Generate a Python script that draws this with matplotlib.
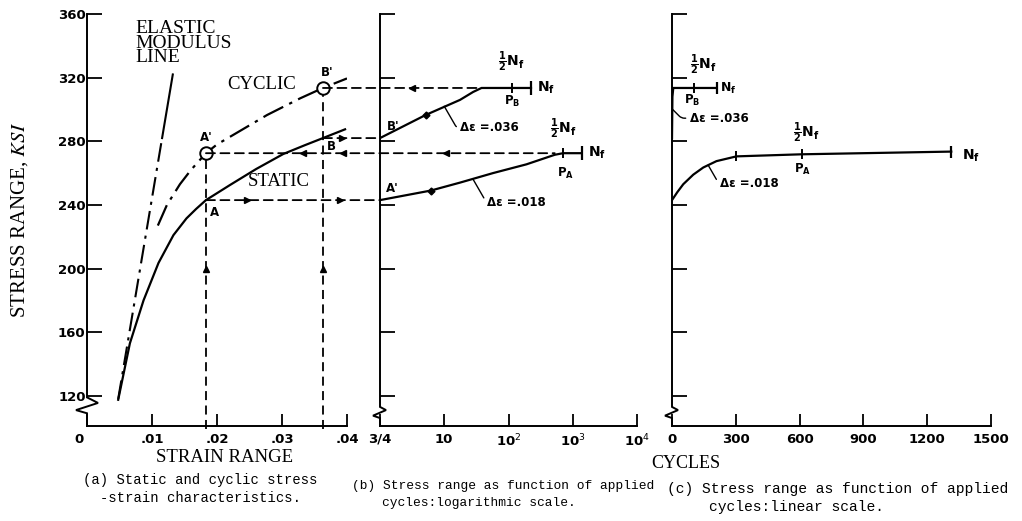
import matplotlib.pyplot as plt
import numpy as np
import matplotlib.transforms as mtrans
from matplotlib.patches import ConnectionPatch

plt.rcParams['font.family'] = ['DejaVu Sans']

# (a) static and cyclic stress-strain curves
static_strain = [0.0048, 0.0066, 0.0087, 0.0110, 0.0133, 0.0153, 0.0168, 0.0183, 0.0220, 0.0260,
                 0.0302, 0.0335, 0.0363, 0.0397]
static_stress = [117.5, 153, 180, 203.5, 221, 231.5, 237.5, 243, 252.5, 262.5,
                 272, 277.5, 282, 287.5]
cyclic_strain = [0.0109, 0.0123, 0.0143, 0.0160, 0.0183, 0.0200, 0.0225, 0.0277, 0.0328, 0.0363, 0.0400]
cyclic_stress = [227, 240, 253, 262, 272.5, 278, 284, 296.5, 307, 313.5, 319.5]
elastic_strain = [0.0048, 0.0132]
elastic_stress = [118, 322]

pt_A = (0.0183, 243)
pt_A1 = (0.0183, 272.5)
pt_B = (0.0363, 282)
pt_B1 = (0.0363, 313.5)

# (b) log scale, x measured in decades from 3/4 cycle
b036_x = [0, 0.71, 1.245, 1.45, 1.58, 2.05, 2.35]
b036_y = [282, 296.5, 306, 311, 313.5, 313.5, 313.5]
b018_x = [0, 0.79, 1.245, 1.76, 2.28, 2.72, 2.85, 3.14]
b018_y = [243, 249, 254, 260, 265.5, 271.5, 272.5, 272.5]
b_half = [2.05, 2.85]
b_fail = [2.35, 3.14]

# (c) linear scale, cycles
c036_x = [0, 2, 6, 103, 211]
c036_y = [282, 308, 313.5, 313.5, 313.5]
c018_x = [0, 25, 53, 100, 147, 209, 303, 609, 1313]
c018_y = [243, 248, 253, 259, 263.5, 267.5, 270.5, 271.8, 273.5]
c_half = [103, 609]
c_fail = [211, 1313]

yticks = [120, 160, 200, 240, 280, 320, 360]
a_xticks = [0, 0.01, 0.02, 0.03, 0.04]
a_xlabels = ['0', '.01', '.02', '.03', '.04']
b_xticks = [0, 1, 2, 3, 4]
b_xlabels = ['3/4', '10', r'10$^2$', r'10$^3$', r'10$^4$']
c_xticks = [0, 300, 600, 900, 1200, 1500]
c_xlabels = ['0', '300', '600', '900', '1200', '1500']

W, H = 1022, 521
fig = plt.figure(figsize=(W / 100, H / 100), dpi=100)

def make_ax(left, right, top=14, bottom=426):
    return fig.add_axes([left / W, (H - bottom) / H, (right - left) / W, (bottom - top) / H])

ax_a = make_ax(87, 347)
ax_b = make_ax(380, 637)
ax_c = make_ax(672, 991)

tickfont = dict(family='DejaVu Sans', weight='bold', size=9.5)
serif = 'Liberation Serif'
lw = 1.6

def frame(ax, xlim, xt, xl, zig, ylab):
    ax.set_xlim(*xlim)
    ax.set_ylim(101, 360)
    ax.spines['top'].set_visible(False)
    ax.spines['right'].set_visible(False)
    ax.spines['left'].set_visible(False)
    ax.spines['bottom'].set_linewidth(1.4)
    ax.set_yticks(yticks)
    ax.set_xticks(xt)
    ax.set_xticklabels(xl, fontdict=tickfont)
    if ylab:
        ax.set_yticklabels([str(v) for v in yticks], fontdict=tickfont)
    else:
        ax.set_yticklabels([])
    ax.tick_params(axis='y', direction='in', length=11, width=1.3, pad=1)
    ax.tick_params(axis='x', direction='in', length=9, width=1.3, pad=5)
    # left axis line with break
    wpx = ax.get_position().width * W
    px, py = zig
    xs = [0, 0] + [p / wpx for p in px] + [0]
    ys = [360, py[0]] + py + [101]
    ax.plot(xs, ys, color='k', lw=1.4, transform=ax.get_yaxis_transform(), clip_on=False,
            solid_joinstyle='miter')

frame(ax_a, (0, 0.04), a_xticks, a_xlabels, ([0, 11, -11, 0, 0], [119, 115.5, 111, 109, 101]), True)
frame(ax_b, (0, 4), b_xticks, b_xlabels, ([0, 6, -7, 0, 0], [113, 111, 107.5, 106, 101]), False)
frame(ax_c, (0, 1500), c_xticks, c_xlabels, ([0, 6, -7, 0, 0], [113, 111, 107.5, 106, 101]), False)

# shift the "0" strain label a little left like the original
lab0 = ax_a.get_xticklabels()[0]
lab0.set_transform(lab0.get_transform() + mtrans.ScaledTranslation(-8 / 100, 0, fig.dpi_scale_trans))

# ---- panel (a)
e_split = np.interp(282, elastic_stress, elastic_strain)
ax_a.plot([e_split, elastic_strain[1]], [282, elastic_stress[1]], color='k', lw=1.5)
ax_a.plot([elastic_strain[0], e_split], [elastic_stress[0], 282], color='k', lw=1.5,
          linestyle=(0, (9, 3, 1.5, 3)))
ax_a.plot(static_strain, static_stress, color='k', lw=lw)
ax_a.plot(cyclic_strain, cyclic_stress, color='k', lw=lw, linestyle=(0, (10, 3, 1.5, 3)))

dash = (0, (5, 3))
for p in [pt_A1, pt_B1]:
    ax_a.plot([p[0], p[0]], [99, p[1]], color='k', lw=1.3, linestyle=dash, clip_on=False)
    ax_a.plot(p[0], 200, marker='^', color='k', ms=4)
for p in [pt_A1, pt_B1]:
    ax_a.plot(*p, marker='o', ms=9, mfc='white', mec='k', mew=1.4, zorder=5)

# horizontal projections between panels (a) and (b)
links = [(pt_A, (0, pt_A[1])), (pt_A1, (2.72, pt_A1[1])), (pt_B, (0, pt_B[1])), (pt_B1, (1.58, pt_B1[1]))]
for pa, pb in links:
    con = ConnectionPatch(xyA=pa, coordsA=ax_a.transData, xyB=pb, coordsB=ax_b.transData,
                          color='k', lw=1.3, linestyle=dash)
    fig.add_artist(con)
ax_a.plot([0.0246, 0.0389], [pt_A[1]] * 2, '>', color='k', ms=4, ls='none', clip_on=False)
ax_a.plot([0.0332, 0.0394], [pt_A1[1]] * 2, '<', color='k', ms=4, ls='none', clip_on=False)
ax_a.plot([0.0392], [pt_B[1]], '>', color='k', ms=4, ls='none', clip_on=False)
ax_b.plot([1.03], [pt_A1[1]], '<', color='k', ms=4)
ax_b.plot([0.5], [pt_B1[1]], '<', color='k', ms=4)

ax_a.text(0.0075, 356, 'ELASTIC\nMODULUS\nLINE', family=serif, fontsize=14, va='top',
          linespacing=0.78)
ax_a.text(0.0216, 315.5, 'CYCLIC', family=serif, fontsize=13.5, va='center')
ax_a.text(0.0248, 255, 'STATIC', family=serif, fontsize=13.5, va='center')
lbl = dict(family='DejaVu Sans', weight='bold', fontsize=8.5)
ax_a.text(pt_A1[0], 282.5, "A'", ha='center', va='center', **lbl)
ax_a.text(pt_B1[0] + 0.0006, 323.5, "B'", ha='center', va='center', **lbl)
ax_a.text(pt_A[0] + 0.0006, 235, 'A', ha='left', va='center', **lbl)
ax_a.text(pt_B[0] + 0.0006, 276.5, 'B', ha='left', va='center', **lbl)

# ---- panel (b)
ax_b.plot(b036_x, b036_y, color='k', lw=lw)
ax_b.plot(b018_x, b018_y, color='k', lw=lw)
ax_b.plot([0.71], [296.5], marker='D', color='k', ms=3.5)
ax_b.plot([0.79], [249], marker='D', color='k', ms=3.5)
ax_b.plot(b_half, [313.5, 272.5], '|', color='k', ms=7, mew=1.4)
ax_b.plot(b_fail, [313.5, 272.5], '|', color='k', ms=10, mew=1.6)

half = r'$\frac{\mathbf{1}}{\mathbf{2}}\mathbf{N}_\mathbf{f}$'
nf = r'$\mathbf{N}_\mathbf{f}$'
mt = dict(math_fontfamily='dejavusans', fontsize=10)
ax_b.text(2.05, 330, half, ha='center', va='center', **mt)
ax_b.text(2.45, 313.5, nf, ha='left', va='center', **mt)
ax_b.text(2.05, 305, r'$\mathbf{P}_\mathbf{B}$', ha='center', va='center', math_fontfamily='dejavusans', fontsize=8.5)
ax_b.text(2.85, 288, half, ha='center', va='center', **mt)
ax_b.text(3.24, 272.5, nf, ha='left', va='center', **mt)
ax_b.text(2.88, 260, r'$\mathbf{P}_\mathbf{A}$', ha='center', va='center', math_fontfamily='dejavusans', fontsize=8.5)
ax_b.text(0.1, 289, "B'", ha='left', va='center', **lbl)
ax_b.text(0.1, 250, "A'", ha='left', va='center', **lbl)

lead = dict(arrowstyle='-', color='k', lw=1.0, relpos=(0, 0.5), shrinkA=1, shrinkB=0)
ax_b.annotate('Δε =.036', xy=(1.0, 302), xytext=(1.25, 288.5), va='center',
              arrowprops=dict(connectionstyle='angle,angleA=0,angleB=-60,rad=3', **lead), **lbl)
ax_b.annotate('Δε =.018', xy=(1.45, 256), xytext=(1.67, 241.5), va='center',
              arrowprops=dict(connectionstyle='angle,angleA=0,angleB=-60,rad=3', **lead), **lbl)

# ---- panel (c)
ax_c.plot(c036_x, c036_y, color='k', lw=lw)
ax_c.plot(c018_x, c018_y, color='k', lw=lw)
ax_c.plot(c_half, [313.5, 271.8], '|', color='k', ms=7, mew=1.4)
ax_c.plot([303], [270.5], '|', color='k', ms=7, mew=1.4)
ax_c.plot(c_fail, [313.5, 273.5], '|', color='k', ms=9, mew=1.6)
ax_c.text(145, 328, half, ha='center', va='center', **mt)
ax_c.text(225, 313.5, nf, ha='left', va='center', math_fontfamily='dejavusans', fontsize=9)
ax_c.text(94, 305.5, r'$\mathbf{P}_\mathbf{B}$', ha='center', va='center', math_fontfamily='dejavusans', fontsize=8.5)
ax_c.text(633, 285, half, ha='center', va='center', **mt)
ax_c.text(612, 262, r'$\mathbf{P}_\mathbf{A}$', ha='center', va='center', math_fontfamily='dejavusans', fontsize=8.5)
ax_c.text(1365, 271, nf, ha='left', va='center', **mt)
ax_c.annotate('Δε =.036', xy=(3, 300), xytext=(84, 294.5), va='center',
              arrowprops=dict(connectionstyle='angle,angleA=0,angleB=-45,rad=3', **lead), **lbl)
ax_c.annotate('Δε =.018', xy=(170, 265), xytext=(225, 253.5), va='center',
              arrowprops=dict(connectionstyle='angle,angleA=0,angleB=-60,rad=3', **lead), **lbl)

# ---- axis titles and captions
fig.text(20 / W, 1 - 220 / H, r'STRESS RANGE, $\mathit{KSI}$', family=serif, fontsize=15,
         rotation=90, ha='center', va='center', math_fontfamily='stix')
fig.text(225 / W, 1 - 457 / H, 'STRAIN RANGE', family=serif, fontsize=13.5, ha='center', va='center')
fig.text(686 / W, 1 - 463 / H, 'CYCLES', family=serif, fontsize=13, ha='center', va='center')

mono = 'Liberation Mono'
fig.text(83 / W, 1 - 480 / H, '(a) Static and cyclic stress', family=mono, fontsize=10, va='center')
fig.text(100 / W, 1 - 498 / H, '-strain characteristics.', family=mono, fontsize=10, va='center')
fig.text(352 / W, 1 - 486 / H, '(b) Stress range as function of applied', family=mono,
         fontsize=9.3, va='center')
fig.text(382 / W, 1 - 503 / H, 'cycles:logarithmic scale.', family=mono, fontsize=9.3, va='center')
fig.text(667 / W, 1 - 489 / H, '(c) Stress range as function of applied', family=mono,
         fontsize=10.5, va='center')
fig.text(709 / W, 1 - 507 / H, 'cycles:linear scale.', family=mono, fontsize=10.5, va='center')

fig.savefig('out.png', dpi=100)
